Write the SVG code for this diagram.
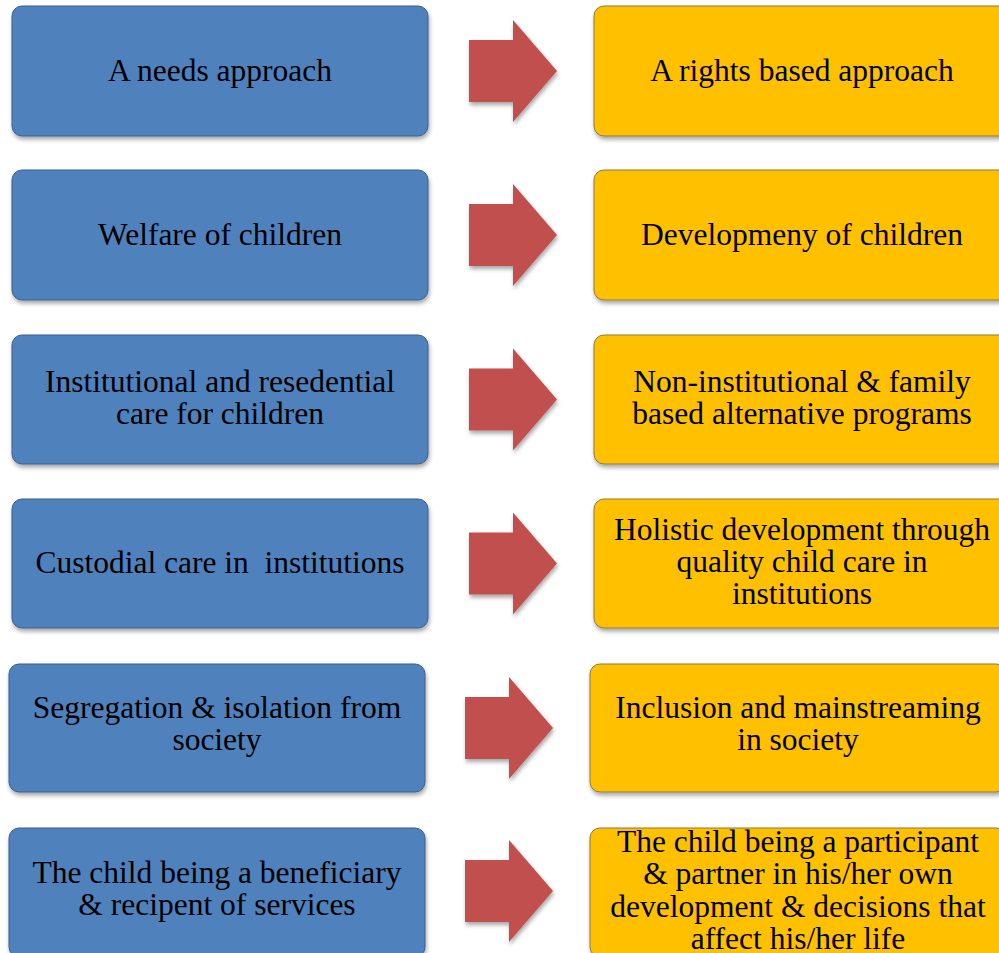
<svg xmlns="http://www.w3.org/2000/svg" width="999" height="953" viewBox="0 0 999 953">
  <defs>
    <filter id="shadow" x="-10%" y="-10%" width="120%" height="130%">
      <feDropShadow dx="1" dy="3" stdDeviation="2" flood-color="#000" flood-opacity="0.35"/>
    </filter>
    <!-- block arrow shape, origin at left end of shaft centreline -->
    <path id="blockArrow" d="M0,-31 H44 V-51 L88,0 L44,51 V31 H0 Z"/>
  </defs>
  <style>
    .old { fill: #4F81BD; stroke: #3A5F8C; stroke-width: 1; filter: url(#shadow); }
    .new { fill: #FFC000; stroke: #8C7A3A; stroke-width: 1; filter: url(#shadow); }
    .arrow { fill: #C0504D; filter: url(#shadow); }
    .lbl { font-family: Liberation Serif, DejaVu Serif, serif; font-size: 31.5px; fill: #000; text-anchor: middle; }
  </style>

  <!-- row 1 -->
  <g id="needs">
    <rect class="old" x="12" y="6" width="416" height="130" rx="10"/>
    <text class="lbl" x="220" y="81">A needs approach</text>
  </g>
  <g id="rights">
    <rect class="new" x="594" y="6" width="416" height="130" rx="10"/>
    <text class="lbl" x="802" y="81">A rights based approach</text>
  </g>

  <!-- row 2 -->
  <g id="welfare">
    <rect class="old" x="12" y="170" width="416" height="130" rx="10"/>
    <text class="lbl" x="220" y="245">Welfare of children</text>
  </g>
  <g id="development">
    <rect class="new" x="594" y="170" width="416" height="130" rx="10"/>
    <text class="lbl" x="802" y="245">Developmeny of children</text>
  </g>

  <!-- row 3 -->
  <g id="institutional">
    <rect class="old" x="12" y="335" width="416" height="129" rx="10"/>
    <text class="lbl" x="220" y="392">Institutional and resedential</text>
    <text class="lbl" x="220" y="424">care for children</text>
  </g>
  <g id="non-institutional">
    <rect class="new" x="594" y="335" width="416" height="129" rx="10"/>
    <text class="lbl" x="802" y="392">Non-institutional &amp; family</text>
    <text class="lbl" x="802" y="424">based alternative programs</text>
  </g>

  <!-- row 4 -->
  <g id="custodial">
    <rect class="old" x="12" y="499" width="416" height="129" rx="10"/>
    <text class="lbl" x="220" y="573" xml:space="preserve">Custodial care in  institutions</text>
  </g>
  <g id="holistic">
    <rect class="new" x="594" y="499" width="416" height="129" rx="10"/>
    <text class="lbl" x="802" y="540">Holistic development through</text>
    <text class="lbl" x="802" y="572">quality child care in</text>
    <text class="lbl" x="802" y="604">institutions</text>
  </g>

  <!-- row 5 -->
  <g id="segregation">
    <rect class="old" x="9" y="664" width="416" height="128" rx="10"/>
    <text class="lbl" x="217" y="718">Segregation &amp; isolation from</text>
    <text class="lbl" x="217" y="750">society</text>
  </g>
  <g id="inclusion">
    <rect class="new" x="590" y="664" width="416" height="128" rx="10"/>
    <text class="lbl" x="798" y="718">Inclusion and mainstreaming</text>
    <text class="lbl" x="798" y="750">in society</text>
  </g>

  <!-- row 6 -->
  <g id="beneficiary">
    <rect class="old" x="9" y="828" width="416" height="129" rx="10"/>
    <text class="lbl" x="217" y="883">The child being a beneficiary</text>
    <text class="lbl" x="217" y="915">&amp; recipent of services</text>
  </g>
  <g id="participant">
    <rect class="new" x="590" y="828" width="416" height="129" rx="10"/>
    <text class="lbl" x="798" y="852">The child being a participant</text>
    <text class="lbl" x="798" y="884">&amp; partner in his/her own</text>
    <text class="lbl" x="798" y="917">development &amp; decisions that</text>
    <text class="lbl" x="798" y="949">affect his/her life</text>
  </g>

  <!-- connectors -->
  <g id="connectors">
    <use href="#blockArrow" class="arrow" x="469" y="71"/>
    <use href="#blockArrow" class="arrow" x="469" y="235"/>
    <use href="#blockArrow" class="arrow" x="469" y="399.5"/>
    <use href="#blockArrow" class="arrow" x="469" y="563.5"/>
    <use href="#blockArrow" class="arrow" x="465" y="728"/>
    <use href="#blockArrow" class="arrow" x="465" y="891"/>
  </g>
</svg>
